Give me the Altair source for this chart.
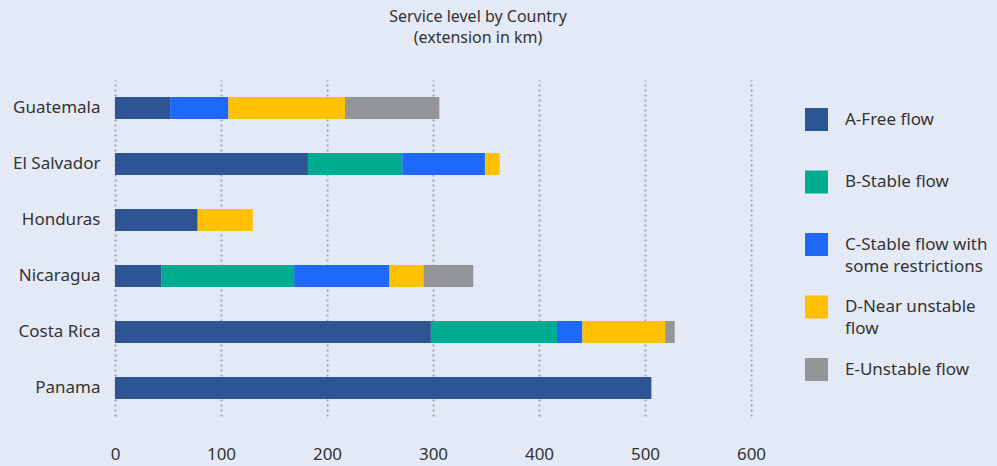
import altair as alt
import pandas as pd

countries = ["Guatemala", "El Salvador", "Honduras", "Nicaragua", "Costa Rica", "Panama"]
levels = ["A-Free flow", "B-Stable flow", "C-Stable flow with some restrictions",
          "D-Near unstable flow", "E-Unstable flow"]
colors = ["#2E5593", "#00AC8F", "#1E68FA", "#FFC000", "#939598"]
A = [52, 182, 78, 44, 298, 506]
B = [0, 89, 0, 125, 119, 0]
C = [55, 78, 0, 90, 24, 0]
D = [110, 14, 52, 32, 78, 0]
E = [89, 0, 0, 47, 9, 0]
series = [A, B, C, D, E]
x_ticks = [0, 100, 200, 300, 400, 500, 600]

rows = []
for li, (lvl, vals) in enumerate(zip(levels, series)):
    for c, v in zip(countries, vals):
        if v > 0:
            rows.append({"Country": c, "Level": lvl, "km": v, "ord": li})
df = pd.DataFrame(rows)

label_expr = ("datum.label == 'C-Stable flow with some restrictions' ? ['C-Stable flow with', 'some restrictions'] : "
              "datum.label == 'D-Near unstable flow' ? ['D-Near unstable', 'flow'] : [datum.label, ' ']")

chart = alt.Chart(df).mark_bar(size=22).encode(
    y=alt.Y("Country:N", sort=countries, title=None,
            axis=alt.Axis(domain=False, ticks=False, labelFontSize=17, labelColor="#333333",
                          labelPadding=15, labelFont="Noto Sans", grid=False)),
    x=alt.X("sum(km):Q", title=None, scale=alt.Scale(domain=[0, 600], nice=False),
            axis=alt.Axis(values=x_ticks, domain=False, ticks=False, labelFontSize=17,
                          labelColor="#333333", labelFont="Noto Sans", labelPadding=30,
                          grid=True, gridDash=[2, 3], gridWidth=2, gridColor="#A3A6AE",
                          labelFlush=False)),
    color=alt.Color("Level:N", sort=levels,
                    scale=alt.Scale(domain=levels, range=colors),
                    legend=alt.Legend(title=None, orient="none", legendX=690, legendY=28,
                                      symbolType="square", symbolSize=529, symbolStrokeWidth=0,
                                      labelFontSize=17, labelColor="#333333", labelFont="Noto Sans",
                                      labelOffset=17, labelLimit=250, rowPadding=20.5,
                                      padding=0, labelExpr=label_expr)),
    order=alt.Order("ord:Q", sort="ascending"),
).properties(
    width=636, height=336,
    title=alt.TitleParams(text=["Service level by Country", "(extension in km)"],
                          fontSize=16, font="Noto Sans", fontWeight="normal", color="#333333",
                          anchor="middle", dx=45, offset=34, lineHeight=21),
    padding={"left": 115, "top": 80, "right": 246, "bottom": 50},
    autosize=alt.AutoSizeParams(type="none"),
    background="#E4EAF5",
).configure(
    view={"stroke": None, "fill": "#E4EAF5"},
    style={"guide-label": {"lineHeight": 22}},
)

chart.save("out.html", embed_options={"renderer": "svg", "actions": False})
